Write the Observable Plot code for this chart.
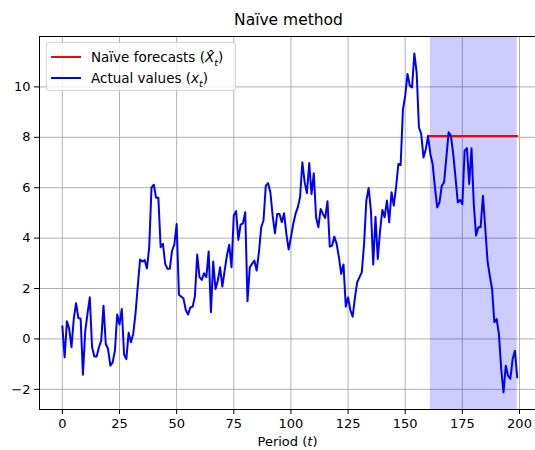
<!DOCTYPE html>
<html><head><meta charset="utf-8">
<script src="https://cdn.jsdelivr.net/npm/d3@7"></script>
<script src="https://cdn.jsdelivr.net/npm/@observablehq/plot@0.6"></script>
<style>
body{margin:0;background:#fff;font-family:"DejaVu Sans",sans-serif;}
#wrap{position:relative;width:535px;height:450px;overflow:hidden;background:#fff;}
#title{position:absolute;left:39px;width:499px;top:10px;text-align:center;font-size:15.5px;line-height:20px;color:#000;}
#chart{position:absolute;left:0;top:30px;}
#legend{position:absolute;left:46px;top:42px;width:188px;height:47px;border:1px solid #d4d4d4;border-radius:3px;background:rgba(255,255,255,0.8);font-size:13.5px;color:#000;}
.sw{position:absolute;left:4px;width:30px;height:2px;}
.lt{position:absolute;left:44px;height:20px;line-height:20px;white-space:nowrap;}
</style>
</head><body>
<div id="wrap">
  <div id="title">Naïve method</div>
  <div id="chart"></div>
  <div id="legend">
    <div class="sw" style="top:12.5px;background:red"></div>
    <div class="lt" style="top:4px">Naïve forecasts (<i>X̂</i><sub style="font-size:9.5px"><i>t</i></sub>)</div>
    <div class="sw" style="top:33.5px;background:blue"></div>
    <div class="lt" style="top:25px">Actual values (<i>x</i><sub style="font-size:9.5px"><i>t</i></sub>)</div>
  </div>
</div>
<script>
// Actual values x_t for t = 0..199
const values = [
  0.5, -0.73, 0.7, 0.4, -0.33, 0.8, 1.42, 0.83, 0.8, -1.42,
  0.3, 1.0, 1.65, -0.33, -0.7, -0.7, -0.33, -0.07, 1.32, -0.2,
  -0.4, -1.06, -0.93, -0.46, 0.97, 0.57, 1.19, -0.62, -0.8, 0.25,
  -0.13, 0.2, 1.0, 2.1, 3.15, 3.07, 3.13, 2.8, 3.64, 6.0,
  6.12, 5.6, 5.6, 3.64, 3.77, 2.98, 2.78, 2.78, 3.5, 3.75,
  4.56, 1.75, 1.68, 1.6, 1.15, 0.97, 1.25, 1.28, 1.7, 3.35,
  2.45, 2.34, 2.61, 2.45, 3.47, 1.06, 3.07, 1.98, 2.31, 2.84,
  2.08, 2.71, 3.31, 3.74, 2.84, 4.9, 5.07, 3.93, 4.54, 4.59,
  5.03, 1.5, 2.84, 2.98, 3.11, 2.71, 3.44, 4.43, 4.7, 6.08,
  6.18, 5.82, 4.9, 4.19, 4.96, 4.96, 4.63, 4.99, 4.17, 3.55,
  4.03, 4.56, 4.96, 5.22, 5.62, 7.01, 6.22, 5.78, 6.98, 5.75,
  6.57, 4.83, 4.43, 5.16, 4.96, 4.8, 5.46, 3.66, 3.7, 4.06,
  3.77, 3.24, 2.58, 2.95, 1.28, 1.65, 1.15, 0.88, 1.65, 2.25,
  2.45, 2.64, 3.77, 5.49, 5.99, 5.09, 2.95, 4.85, 3.17, 4.3,
  5.12, 4.83, 5.49, 4.63, 5.82, 5.29, 6.02, 6.94, 6.9, 9.1,
  9.65, 10.51, 10.05, 9.98, 11.33, 10.58, 8.39, 8.13, 7.2, 7.53,
  8.05, 7.34, 6.94, 6.01, 5.22, 5.42, 6.08, 6.21, 7.2, 8.2,
  8.06, 7.34, 6.41, 5.42, 5.51, 5.35, 7.47, 7.57, 6.15, 7.57,
  5.35, 4.1, 4.43, 4.43, 5.68, 4.43, 3.1, 2.51, 1.98, 0.66,
  0.79, 0.19, -1.2, -2.12, -1.06, -1.46, -1.59, -0.8, -0.47, -1.53
];
const forecastValue = 8.05;
const forecastPeriods = [160, 199];
const testWindow = [161, 199];
const xTicks = [0, 25, 50, 75, 100, 125, 150, 175, 200];
const yTicks = [-2, 0, 2, 4, 6, 8, 10];
const xDomain = [-10, 207];
const yDomain = [-2.8, 12.0];

const series = values.map((v, i) => ({t: i, v}));
const forecast = forecastPeriods.map(t => ({t, v: forecastValue}));
const band = [{x1: testWindow[0], x2: testWindow[1]}];

const chart = Plot.plot({
  width: 535, height: 420,
  marginLeft: 39, marginRight: 0, marginTop: 6, marginBottom: 41,
  style: {fontFamily: "DejaVu Sans", fontSize: "13px", color: "black", background: "white", overflow: "visible"},
  x: {domain: xDomain},
  y: {domain: yDomain},
  marks: [
    Plot.gridX(xTicks, {stroke: "#b0b0b0", strokeOpacity: 1, strokeWidth: 1}),
    Plot.gridY(yTicks, {stroke: "#b0b0b0", strokeOpacity: 1, strokeWidth: 1}),
    Plot.rect(band, {x1: "x1", x2: "x2", fill: "blue", fillOpacity: 0.2}),
    Plot.line(forecast, {x: "t", y: "v", stroke: "red", strokeWidth: 2}),
    Plot.line(series, {x: "t", y: "v", stroke: "blue", strokeWidth: 2}),
    Plot.ruleX([xDomain[0]], {stroke: "black", strokeWidth: 1}),
    Plot.ruleY(yDomain, {stroke: "black", strokeWidth: 1}),
    Plot.axisX(xTicks, {tickSize: 5, tickPadding: 4, fontSize: 13, label: "Period (t)", labelAnchor: "center", labelArrow: "none", labelOffset: 36}),
    Plot.axisY(yTicks, {tickSize: 5, tickPadding: 4, fontSize: 13, label: null})
  ]
});

// italic t in axis label
const NS = "http://www.w3.org/2000/svg";
for (const el of chart.querySelectorAll("text")) {
  if (el.textContent === "Period (t)") {
    el.textContent = "";
    const a = document.createElementNS(NS, "tspan"); a.textContent = "Period (";
    const b = document.createElementNS(NS, "tspan"); b.textContent = "t"; b.setAttribute("font-style", "italic");
    const c = document.createElementNS(NS, "tspan"); c.textContent = ")";
    el.append(a, b, c);
  }
}
document.getElementById("chart").append(chart);
</script>
</body></html>
